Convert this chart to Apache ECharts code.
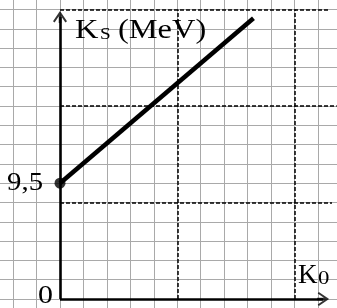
<!DOCTYPE html>
<html>
<head>
<meta charset="utf-8">
<script src="https://cdn.jsdelivr.net/npm/echarts@6/dist/echarts.min.js"></script>
<style>
html,body{margin:0;padding:0;background:#fff;}
#c{width:337px;height:308px;}
</style>
</head>
<body>
<div id="c"></div>
<script>
// Data (in grid-square units of the squared paper)
const lineU = [0, 8.25];          // K0 positions of the straight line ends
const lineV = [6, 14.55];         // Ks positions of the straight line ends
const startLabel = '9,5';         // Ks value at K0 = 0
const dashedU = [5, 10];          // vertical dashed guide lines
const dashedV = [5, 10, 15];      // horizontal dashed guide lines
const dashedVEnd = [11.6, 11.8, 11.5];
const axisNameY = ['K', 'S', '(MeV)'];
const axisNameX = ['K', '0'];
const originLabel = '0';

const chart = echarts.init(document.getElementById('c'), null, {renderer: 'canvas'});

const arrowPath = 'path://M7,0 L14,10.3 L12.4,11.4 L7,3.4 L1.6,11.4 L0,10.3 Z M5.75,1.5 L8.25,1.5 L8.25,12 L5.75,12 Z';
const serif = '"Liberation Serif", "DejaVu Serif", serif';
const xTip = 11.22, yTip = 14.61;

const dashedLines = [];
dashedV.forEach((v, i) => dashedLines.push([{coord: [0, v]}, {coord: [dashedVEnd[i], v]}]));
dashedU.forEach(u => dashedLines.push([{coord: [u, 0]}, {coord: [u, 15]}]));

const axisStyle = {color: '#000', width: 2.6, type: 'solid', cap: 'butt'};
const axisLines = [
  [{coord: [0, 0]}, {coord: [xTip, 0]}],
  [{coord: [0, 0]}, {coord: [0, yTip]}]
];

const gridStyle = {show: true, lineStyle: {color: '#a9a9a9', width: 1}};
function txt(text, x, y, size, align, sx) {
  return {type: 'text', x: x, y: y, scaleX: sx, silent: true, z: 100,
    style: {text: text, fontSize: size, fontFamily: serif, fill: '#000', align: align, verticalAlign: 'middle'}};
}

chart.setOption({
  animation: false,
  backgroundColor: '#fff',
  grid: {left: -10.35, top: -9.8, width: 351.75, height: 328.1, containLabel: false, outerBoundsMode: 'none'},
  xAxis: {type: 'value', min: -3, max: 12, interval: 1,
    axisLine: {show: false}, axisTick: {show: false}, axisLabel: {show: false}, splitLine: gridStyle},
  yAxis: {type: 'value', min: -1, max: 16, interval: 1,
    axisLine: {show: false}, axisTick: {show: false}, axisLabel: {show: false}, splitLine: gridStyle},
  series: [
    {type: 'line', data: [], silent: true, z: 2,
      markLine: {silent: true, symbol: ['none', 'none'], label: {show: false}, animation: false,
        lineStyle: {color: '#000', width: 1.5, type: [4, 2]}, emphasis: {disabled: true},
        data: dashedLines}},
    {type: 'line', data: [], silent: true, z: 3,
      markLine: {silent: true, symbol: ['none', 'none'], label: {show: false}, animation: false,
        lineStyle: axisStyle, emphasis: {disabled: true},
        data: axisLines}},
    {type: 'scatter', z: 3, silent: true, symbol: arrowPath, symbolSize: [14, 12],
      itemStyle: {color: '#000'},
      data: [{value: [xTip, 0], symbolRotate: -90}, {value: [0, yTip], symbolRotate: 0}]},
    {type: 'line', z: 4, silent: true, symbol: 'none',
      data: lineU.map((u, i) => [u, lineV[i]]),
      lineStyle: {color: '#000', width: 4.5}},
    {type: 'scatter', z: 5, silent: true, symbol: 'circle', symbolSize: 11,
      itemStyle: {color: '#000'},
      data: [[lineU[0], lineV[0]]]}
  ],
  graphic: [
    txt(axisNameY[0], 75, 31, 27, 'left', 1.2),
    txt(axisNameY[1], 100, 35, 16, 'left', 1.2),
    txt(axisNameY[2], 118, 31, 27, 'left', 1.2),
    txt(axisNameX[0], 298, 276, 27, 'left', 1.0),
    txt(axisNameX[1], 318, 279, 19, 'left', 1.2),
    txt(startLabel, 43, 183.5, 25, 'right', 1.15),
    txt(originLabel, 53, 296, 26, 'right', 1.15)
  ]
});
</script>
</body>
</html>
